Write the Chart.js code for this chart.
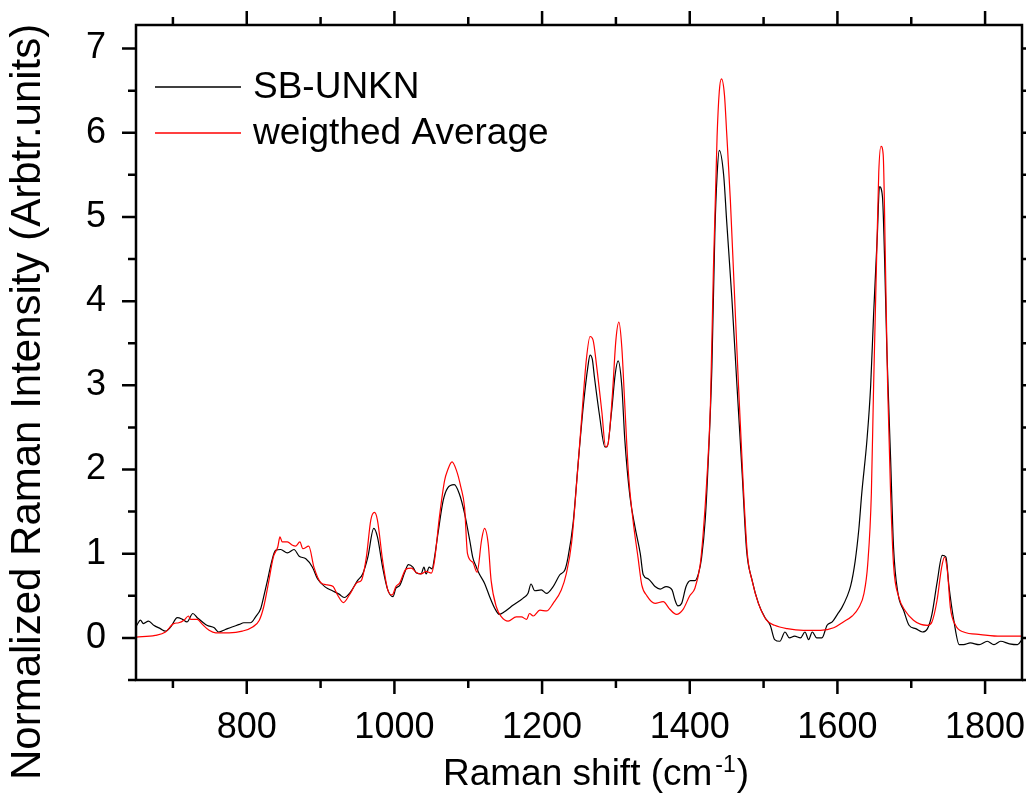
<!doctype html>
<html lang="en">
<head>
<meta charset="utf-8">
<title>Raman spectra: SB-UNKN vs weigthed Average</title>
<script src="https://cdn.jsdelivr.net/npm/chart.js"></script>
<style>
  html, body { margin: 0; padding: 0; background: #fff; }
  #wrap { width: 1026px; height: 793px; }
</style>
</head>
<body>
<div id="wrap"><canvas id="raman" width="1026" height="793"></canvas></div>
<script>
// axis ranges and tick labels
const xMin = 650, xMax = 1850;
const yMin = -0.5, yMax = 7.28;
const xTicks = [800, 1000, 1200, 1400, 1600, 1800];
const yTicks = [0, 1, 2, 3, 4, 5, 6, 7];
const xTitle = ['Raman shift (cm', '-1', ')'];
const yTitle = 'Normalized Raman Intensity (Arbtr.units)';
const seriesNames = ['SB-UNKN', 'weigthed Average'];
const seriesColors = ['#000000', '#ff0000'];

// [Raman shift, intensity]
const sbUnkn = [
  [651,0.15],[656,0.21],[660,0.17],[667,0.20],[674,0.15],[683,0.11],[690,0.08],[697,0.13],
  [706,0.24],[713,0.22],[719,0.19],[727,0.29],[733,0.24],[740,0.19],[746,0.15],[756,0.12],
  [762,0.07],[771,0.10],[780,0.13],[790,0.16],[796,0.18],[805,0.18],[812,0.25],[819,0.35],
  [823,0.49],[828,0.68],[833,0.88],[839,1.04],[846,1.05],[855,1.01],[864,1.05],[871,0.97],
  [880,0.94],[889,0.84],[896,0.70],[907,0.60],[916,0.56],[925,0.52],[932,0.48],[941,0.55],
  [950,0.68],[957,0.76],[964,0.96],[972,1.30],[977,1.20],[984,0.84],[991,0.57],[998,0.49],
  [1002,0.59],[1007,0.62],[1014,0.78],[1019,0.87],[1025,0.84],[1030,0.77],[1036,0.76],[1040,0.84],
  [1043,0.76],[1047,0.84],[1051,0.82],[1054,0.94],[1059,1.24],[1066,1.63],[1072,1.78],[1081,1.82],
  [1088,1.71],[1095,1.48],[1102,1.16],[1106,0.96],[1111,0.84],[1115,0.76],[1122,0.65],[1129,0.49],
  [1136,0.35],[1142,0.28],[1149,0.31],[1161,0.39],[1174,0.47],[1181,0.53],[1185,0.64],[1190,0.56],
  [1199,0.57],[1206,0.53],[1215,0.61],[1224,0.75],[1231,0.81],[1235,0.95],[1242,1.36],[1249,2.09],
  [1256,2.77],[1262,3.22],[1265,3.36],[1268,3.31],[1271,3.09],[1278,2.63],[1285,2.27],[1288,2.27],
  [1294,2.68],[1299,3.13],[1303,3.29],[1308,2.99],[1312,2.36],[1319,1.68],[1326,1.31],[1333,1.00],
  [1337,0.75],[1344,0.70],[1353,0.61],[1360,0.58],[1368,0.61],[1376,0.57],[1380,0.45],[1384,0.38],
  [1389,0.41],[1395,0.61],[1401,0.68],[1407,0.68],[1412,0.77],[1416,0.95],[1421,1.41],[1425,2.09],
  [1430,3.22],[1434,4.81],[1437,5.49],[1440,5.79],[1446,5.49],[1450,4.95],[1457,4.04],[1464,2.99],
  [1471,1.95],[1477,1.04],[1484,0.70],[1493,0.41],[1502,0.24],[1509,0.15],[1515,-0.02],[1522,-0.04],
  [1529,0.07],[1535,0.00],[1542,0.02],[1550,0.00],[1556,0.07],[1561,-0.02],[1566,0.07],[1572,0.00],
  [1579,0.00],[1586,0.15],[1593,0.19],[1600,0.28],[1606,0.36],[1613,0.49],[1618,0.62],[1624,0.91],
  [1629,1.29],[1633,1.72],[1640,2.35],[1645,2.99],[1649,3.84],[1654,4.77],[1657,5.36],[1661,5.24],
  [1664,4.47],[1667,3.41],[1672,2.14],[1676,1.08],[1682,0.53],[1690,0.32],[1697,0.15],[1706,0.11],
  [1715,0.07],[1722,0.11],[1728,0.28],[1735,0.66],[1742,0.98],[1747,0.96],[1751,0.62],[1758,0.19],
  [1765,-0.08],[1771,-0.08],[1780,-0.06],[1792,-0.08],[1803,-0.04],[1812,-0.08],[1821,-0.04],[1833,-0.07],
  [1844,-0.08],[1850,-0.02]
];

const weightedAvg = [
  [650,0.01],[676,0.03],[690,0.07],[701,0.17],[708,0.18],[715,0.21],[721,0.26],[724,0.22],
  [733,0.22],[740,0.16],[749,0.09],[758,0.06],[776,0.06],[794,0.08],[808,0.13],[817,0.21],
  [823,0.37],[830,0.68],[836,0.96],[842,1.08],[845,1.20],[848,1.14],[855,1.14],[862,1.10],
  [866,1.09],[872,1.14],[876,1.06],[884,1.09],[891,0.84],[900,0.66],[909,0.63],[917,0.61],
  [923,0.51],[931,0.42],[939,0.51],[950,0.66],[955,0.68],[962,0.96],[968,1.40],[973,1.49],
  [977,1.40],[984,0.92],[991,0.57],[997,0.51],[1002,0.61],[1007,0.65],[1016,0.82],[1023,0.83],
  [1029,0.78],[1036,0.76],[1043,0.79],[1050,0.77],[1054,0.90],[1061,1.44],[1068,1.87],[1072,1.99],
  [1078,2.09],[1084,1.99],[1090,1.79],[1095,1.55],[1099,1.00],[1106,0.90],[1112,0.78],[1118,1.16],
  [1122,1.30],[1127,1.12],[1131,0.68],[1138,0.37],[1145,0.25],[1154,0.20],[1165,0.25],[1172,0.25],
  [1179,0.22],[1183,0.29],[1188,0.26],[1197,0.33],[1206,0.32],[1215,0.41],[1226,0.57],[1233,0.77],
  [1240,1.13],[1247,1.86],[1253,2.54],[1260,3.31],[1265,3.58],[1269,3.54],[1274,3.22],[1281,2.68],
  [1286,2.27],[1289,2.29],[1295,2.86],[1300,3.54],[1304,3.75],[1308,3.45],[1312,2.77],[1317,1.95],
  [1323,1.41],[1330,0.95],[1335,0.63],[1342,0.50],[1353,0.41],[1364,0.43],[1373,0.34],[1382,0.28],
  [1391,0.34],[1400,0.50],[1407,0.59],[1414,0.86],[1418,1.22],[1423,1.86],[1428,2.77],[1432,4.36],
  [1437,5.95],[1440,6.49],[1443,6.64],[1447,6.45],[1450,6.00],[1455,5.20],[1460,4.20],[1466,3.00],
  [1472,1.90],[1478,1.00],[1485,0.66],[1493,0.41],[1504,0.21],[1515,0.15],[1532,0.11],[1554,0.09],
  [1577,0.09],[1595,0.12],[1608,0.19],[1620,0.26],[1629,0.36],[1636,0.53],[1641,0.87],[1646,1.72],
  [1649,2.99],[1653,4.47],[1656,5.53],[1659,5.84],[1662,5.74],[1665,4.47],[1668,2.99],[1672,1.72],
  [1676,0.87],[1683,0.49],[1692,0.32],[1703,0.21],[1713,0.16],[1722,0.15],[1728,0.19],[1735,0.45],
  [1741,0.83],[1745,0.96],[1749,0.79],[1753,0.36],[1760,0.15],[1771,0.07],[1794,0.04],[1821,0.02],
  [1850,0.02]
];

const FONT = "'Liberation Sans', Arial, sans-serif";

// box round the plot with Origin-style ticks (major + minor) on all four sides
const frameTicks = {
  id: 'frameTicks',
  afterDatasetsDraw(chart) {
    const {ctx, chartArea: a, scales: {x, y}} = chart;
    ctx.save();
    ctx.strokeStyle = '#000';
    ctx.lineWidth = 2.5;
    ctx.lineCap = 'square';
    ctx.strokeRect(a.left, a.top, a.right - a.left, a.bottom - a.top);
    ctx.lineCap = 'butt';
    ctx.beginPath();
    for (let v = Math.ceil(x.min / 100) * 100; v <= x.max; v += 100) {
      const px = x.getPixelForValue(v);
      const len = v % 200 === 0 ? 14 : 8;
      ctx.moveTo(px, a.bottom); ctx.lineTo(px, a.bottom + len);
      ctx.moveTo(px, a.top); ctx.lineTo(px, a.top - len);
    }
    for (let v = Math.ceil(y.min / 0.5) * 0.5; v <= y.max; v += 0.5) {
      const py = y.getPixelForValue(v);
      const len = Number.isInteger(v) ? 14 : 8;
      ctx.moveTo(a.left, py); ctx.lineTo(a.left - len, py);
      ctx.moveTo(a.right, py); ctx.lineTo(a.right + len, py);
    }
    ctx.stroke();
    ctx.restore();
  }
};

// axis titles (x title carries a superscript)
const axisTitles = {
  id: 'axisTitles',
  afterDraw(chart) {
    const {ctx, chartArea: a} = chart;
    ctx.save();
    ctx.fillStyle = '#000';
    ctx.textBaseline = 'alphabetic';
    ctx.textAlign = 'left';
    let tx = a.left + 307;
    const ty = a.bottom + 105;
    ctx.font = '37px ' + FONT;
    ctx.fillText(xTitle[0], tx, ty);
    tx += ctx.measureText(xTitle[0]).width + 3;
    ctx.font = '23px ' + FONT;
    ctx.fillText(xTitle[1], tx, ty - 13);
    tx += ctx.measureText(xTitle[1]).width + 1;
    ctx.font = '37px ' + FONT;
    ctx.fillText(xTitle[2], tx, ty);

    ctx.font = '42px ' + FONT;
    ctx.translate(a.left - 96, a.bottom + 100);
    ctx.rotate(-Math.PI / 2);
    ctx.fillText(yTitle, 0, 0);
    ctx.restore();
  }
};

// legend in the upper left corner of the plot
const cornerLegend = {
  id: 'cornerLegend',
  afterDraw(chart) {
    const {ctx, chartArea: a} = chart;
    ctx.save();
    ctx.font = '37px ' + FONT;
    ctx.textBaseline = 'middle';
    ctx.textAlign = 'left';
    chart.data.datasets.forEach((ds, i) => {
      const ly = a.top + 62 + i * 46;
      ctx.strokeStyle = ds.borderColor;
      ctx.lineWidth = 1.3;
      ctx.beginPath();
      ctx.moveTo(a.left + 19, ly);
      ctx.lineTo(a.left + 105, ly);
      ctx.stroke();
      ctx.fillStyle = '#000';
      ctx.fillText(ds.label, a.left + 117, ly + 1);
    });
    ctx.restore();
  }
};

const toXY = arr => arr.map(([x, y]) => ({x, y}));
const noPad = s => { s.paddingTop = 0; s.paddingBottom = 0; s.paddingLeft = 0; s.paddingRight = 0; };

new Chart(document.getElementById('raman'), {
  type: 'line',
  data: {
    datasets: [
      {label: seriesNames[0], data: toXY(sbUnkn), borderColor: seriesColors[0], order: 1},
      {label: seriesNames[1], data: toXY(weightedAvg), borderColor: seriesColors[1], order: 0}
    ]
  },
  options: {
    responsive: false,
    animation: false,
    parsing: false,
    elements: {
      line: {borderWidth: 1.2, cubicInterpolationMode: 'monotone', fill: false},
      point: {radius: 0}
    },
    layout: {padding: {top: 25, right: 4, left: 0, bottom: 0}},
    plugins: {
      legend: {display: false},
      tooltip: {enabled: false}
    },
    scales: {
      x: {
        type: 'linear',
        min: xMin,
        max: xMax,
        afterBuildTicks: s => { s.ticks = xTicks.map(v => ({value: v})); },
        afterFit: s => { s.height = 113; noPad(s); },
        grid: {display: false},
        border: {display: false},
        ticks: {color: '#000', font: {family: FONT, size: 36}, padding: 18,
                maxRotation: 0, autoSkip: false, callback: v => String(v)},
        title: {display: false}
      },
      y: {
        type: 'linear',
        min: yMin,
        max: yMax,
        afterBuildTicks: s => { s.ticks = yTicks.map(v => ({value: v})); },
        afterFit: s => { s.width = 136; noPad(s); },
        grid: {display: false},
        border: {display: false},
        ticks: {color: '#000', font: {family: FONT, size: 36}, padding: 22,
                callback: v => String(v)},
        title: {display: false}
      }
    }
  },
  plugins: [frameTicks, axisTitles, cornerLegend]
});
</script>
</body>
</html>
